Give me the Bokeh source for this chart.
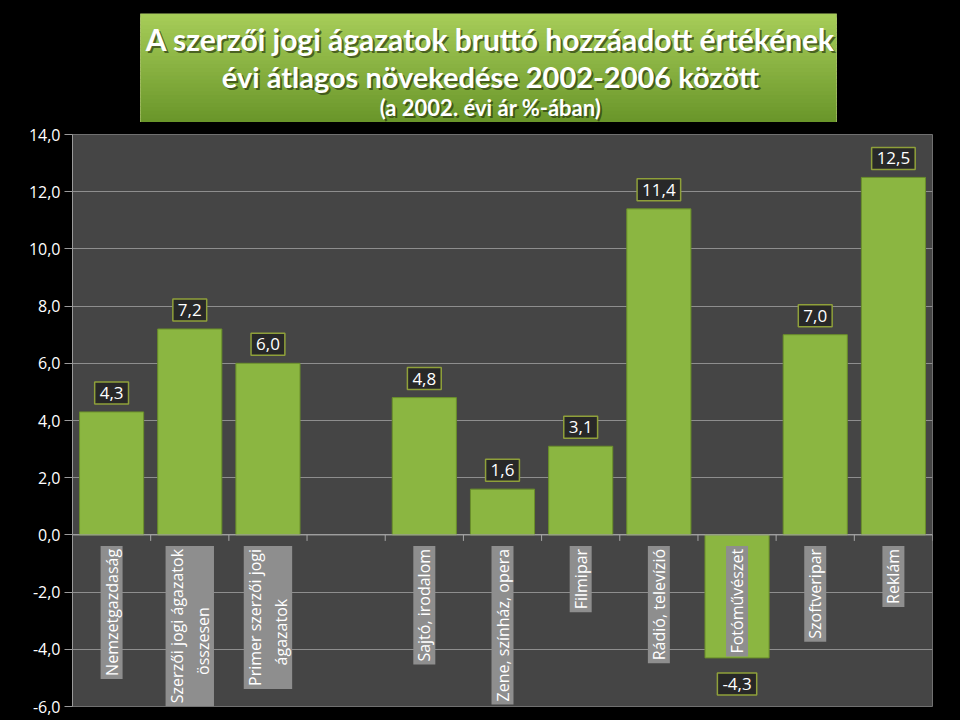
import math
from bokeh.plotting import figure
from bokeh.layouts import column
from bokeh.models import ColumnDataSource, FixedTicker
from bokeh.core.properties import value
from bokeh.embed import file_html
from bokeh.resources import INLINE

# ---------------- data ----------------
categories = ["Nemzetgazdaság", "Szerzői jogi ágazatok\nösszesen", "Primer szerzői jogi\nágazatok", "",
              "Sajtó, irodalom", "Zene, színház, opera", "Filmipar", "Rádió, televízió",
              "Fotóművészet", "Szoftveripar", "Reklám"]
values = [4.3, 7.2, 6.0, None, 4.8, 1.6, 3.1, 11.4, -4.3, 7.0, 12.5]
y_ticks = [-6, -4, -2, 0, 2, 4, 6, 8, 10, 12, 14]
title_lines = ["A szerzői jogi ágazatok bruttó hozzáadott értékének",
               "évi átlagos növekedése 2002-2006 között",
               "(a 2002. évi ár %-ában)"]

def fmt(v):
    return f"{v:.1f}".replace(".", ",")

FONT = value("Open Sans")
W, H_TOP, H_MAIN = 960, 122, 598
LEFT, RIGHT = 72, 28

# ---------------- title panel ----------------
t = figure(width=W, height=H_TOP, x_range=(LEFT, W - RIGHT), y_range=(0, 1),
           output_backend="svg", toolbar_location=None,
           x_axis_location=None, y_axis_location=None,
           min_border_left=LEFT, min_border_right=RIGHT, min_border_top=13, min_border_bottom=0)
t.background_fill_color = "#000000"
t.border_fill_color = "#000000"
t.outline_line_color = None
t.xgrid.visible = False
t.ygrid.visible = False

box_l, box_r = 140, 836
n = 28
top_c = (0xa6, 0xcc, 0x58)
bot_c = (0x6a, 0x96, 0x2a)
bottoms, tops, cols = [], [], []
for i in range(n):
    f = i / (n - 1)
    c = tuple(int(round(top_c[k] * (1 - f) + bot_c[k] * f)) for k in range(3))
    tops.append(1 - i / n)
    bottoms.append(max(0.0, 1 - (i + 1) / n - 0.03))
    cols.append("#%02x%02x%02x" % c)
t.quad(left=box_l, right=box_r, bottom=bottoms, top=tops, fill_color=cols, line_color=None)
t.quad(left=box_l, right=box_r, bottom=0, top=1, fill_color=None, line_color="#c8e282",
       line_width=1, line_alpha=0.6)

ty = [0.77, 0.425, 0.135]
tsz = ["30px", "29px", "22px"]
cx = (box_l + box_r) / 2 + 2
for line, yy, sz in zip(title_lines, ty, tsz):
    t.text(x=[cx], y=[yy], text=[line], text_align="center", text_baseline="middle",
           text_font=value("Lato"), text_font_style="bold", text_font_size=sz,
           text_color="#2a3a10", text_alpha=0.7, x_offset=2, y_offset=2)
    t.text(x=[cx], y=[yy], text=[line], text_align="center", text_baseline="middle",
           text_font=value("Lato"), text_font_style="bold", text_font_size=sz,
           text_color="#ffffff")

# ---------------- main chart ----------------
p = figure(width=W, height=H_MAIN, x_range=(0, len(categories)), y_range=(-6, 14),
           output_backend="svg", toolbar_location=None, x_axis_location=None,
           min_border_left=LEFT, min_border_right=RIGHT, min_border_top=12, min_border_bottom=14)
p.background_fill_color = "#454545"
p.border_fill_color = "#000000"
p.outline_line_color = "#707070"
p.xgrid.visible = False
p.ygrid.ticker = FixedTicker(ticks=y_ticks)
p.ygrid.grid_line_color = "#8e8e8e"
p.ygrid.grid_line_width = 1
p.yaxis.ticker = FixedTicker(ticks=y_ticks)
p.yaxis.major_label_overrides = {v: fmt(v) for v in y_ticks}
p.yaxis.major_label_text_color = "#ffffff"
p.yaxis.major_label_text_font = "Open Sans"
p.yaxis.major_label_text_font_size = "16px"
p.yaxis.axis_line_color = "#9a9a9a"
p.yaxis.major_tick_line_color = "#9a9a9a"
p.yaxis.major_tick_out = 8
p.yaxis.major_tick_in = 0
p.yaxis.minor_tick_line_color = None
p.yaxis.major_label_standoff = 4

xs = [i + 0.5 for i in range(len(categories))]
bx = [x for x, v in zip(xs, values) if v is not None]
bv = [v for v in values if v is not None]
src = ColumnDataSource(dict(x=bx, top=bv))
p.vbar(x="x", top="top", bottom=0, width=0.82, source=src,
       fill_color="#8bb641", line_color="#6a8f2a", line_width=1)

# zero axis line and boundary ticks
p.ray(x=[0], y=[0], length=len(categories), angle=0, line_color="#a8a8a8", line_width=1)
p.ray(x=list(range(1, len(categories) + 1)), y=[0] * len(categories), length=6,
      length_units="screen", angle=-math.pi / 2, line_color="#a8a8a8", line_width=1)

# value labels
pos = [(x, v) for x, v in zip(bx, bv) if v >= 0]
neg = [(x, v) for x, v in zip(bx, bv) if v < 0]
common = dict(text_align="center", text_font=FONT, text_font_size="17px", text_color="#ffffff",
              background_fill_color="#282828", border_line_color="#8fa03a", border_line_width=1.5,
              padding=(5, 5))
p.text(x=[a for a, _ in pos], y=[b for _, b in pos], text=[fmt(b) for _, b in pos],
       text_baseline="bottom", y_offset=-8, **common)
p.text(x=[a for a, _ in neg], y=[b for _, b in neg], text=[fmt(b) for _, b in neg],
       text_baseline="top", y_offset=15, **common)

# category labels (vertical, grey boxes); shorter lines centred with no-break spaces
def centred(label):
    lines = label.split("\n")
    if len(lines) == 1:
        return label
    longest = max(len(s) for s in lines)
    out = []
    for s in lines:
        k = int(round((longest - len(s)) * 0.56 / 0.26 / 2))
        out.append(s + "\u00a0" * k)
    return "\n".join(out)

lx = [x for x, c in zip(xs, categories) if c]
lt = [centred(c) for c in categories if c]
p.text(x=lx, y=[0] * len(lx), text=lt, angle=math.pi / 2, text_align="right",
       text_baseline="middle", y_offset=11, text_font=FONT, text_font_size="16px",
       text_color="#ffffff", background_fill_color="#8e8e8e", padding=(3, 0))

layout = column(t, p, spacing=0)
html = file_html(layout, INLINE)
html = html.replace("<head>", "<head><style>body{background:#000000;}</style>", 1)
open("out.html", "w").write(html)
